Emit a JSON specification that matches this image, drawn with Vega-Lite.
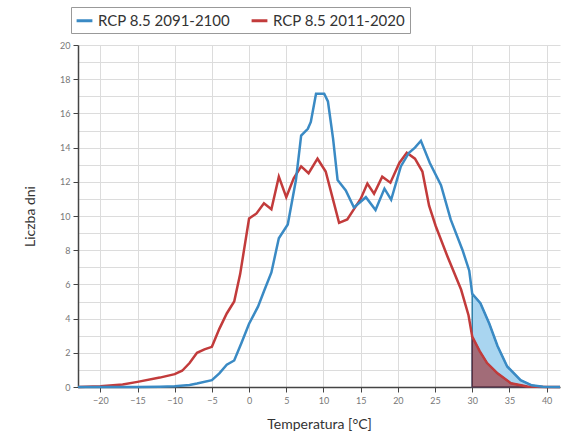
{
  "$schema": "https://vega.github.io/schema/vega-lite/v6.json",
  "width": 482,
  "height": 342,
  "autosize": {"type": "none"},
  "padding": {"left": 78, "top": 45, "right": 4, "bottom": 50},
  "background": "white",
  "config": {
    "font": "Lato",
    "view": {"stroke": null},
    "axis": {
      "domainColor": "#444",
      "domainWidth": 1.5,
      "tickColor": "#444",
      "tickSize": 5,
      "labelColor": "#777",
      "labelFontSize": 9,
      "gridColor": "#dcdcdc",
      "titleFontSize": 14,
      "titleFontWeight": "normal",
      "titleColor": "#333"
    }
  },
  "datasets": {
    "curves": [
      {"t": -23, "v": 0, "s": "RCP 8.5 2011-2020"},
      {"t": -20, "v": 0.05, "s": "RCP 8.5 2011-2020"},
      {"t": -17, "v": 0.15, "s": "RCP 8.5 2011-2020"},
      {"t": -15, "v": 0.3, "s": "RCP 8.5 2011-2020"},
      {"t": -12, "v": 0.55, "s": "RCP 8.5 2011-2020"},
      {"t": -10, "v": 0.75, "s": "RCP 8.5 2011-2020"},
      {"t": -9, "v": 0.95, "s": "RCP 8.5 2011-2020"},
      {"t": -8, "v": 1.4, "s": "RCP 8.5 2011-2020"},
      {"t": -7, "v": 2.0, "s": "RCP 8.5 2011-2020"},
      {"t": -6, "v": 2.2, "s": "RCP 8.5 2011-2020"},
      {"t": -5, "v": 2.35, "s": "RCP 8.5 2011-2020"},
      {"t": -4, "v": 3.4, "s": "RCP 8.5 2011-2020"},
      {"t": -3, "v": 4.3, "s": "RCP 8.5 2011-2020"},
      {"t": -2, "v": 5.0, "s": "RCP 8.5 2011-2020"},
      {"t": -1.2, "v": 6.6, "s": "RCP 8.5 2011-2020"},
      {"t": -0.5, "v": 8.5, "s": "RCP 8.5 2011-2020"},
      {"t": 0, "v": 9.85, "s": "RCP 8.5 2011-2020"},
      {"t": 1, "v": 10.15, "s": "RCP 8.5 2011-2020"},
      {"t": 2, "v": 10.75, "s": "RCP 8.5 2011-2020"},
      {"t": 3, "v": 10.4, "s": "RCP 8.5 2011-2020"},
      {"t": 4, "v": 12.3, "s": "RCP 8.5 2011-2020"},
      {"t": 5, "v": 11.1, "s": "RCP 8.5 2011-2020"},
      {"t": 6, "v": 12.2, "s": "RCP 8.5 2011-2020"},
      {"t": 7, "v": 12.9, "s": "RCP 8.5 2011-2020"},
      {"t": 8, "v": 12.5, "s": "RCP 8.5 2011-2020"},
      {"t": 9.2, "v": 13.35, "s": "RCP 8.5 2011-2020"},
      {"t": 10.3, "v": 12.6, "s": "RCP 8.5 2011-2020"},
      {"t": 11.2, "v": 11.1, "s": "RCP 8.5 2011-2020"},
      {"t": 12.1, "v": 9.6, "s": "RCP 8.5 2011-2020"},
      {"t": 13.2, "v": 9.8, "s": "RCP 8.5 2011-2020"},
      {"t": 14.1, "v": 10.4, "s": "RCP 8.5 2011-2020"},
      {"t": 15, "v": 11.0, "s": "RCP 8.5 2011-2020"},
      {"t": 15.9, "v": 11.9, "s": "RCP 8.5 2011-2020"},
      {"t": 16.8, "v": 11.3, "s": "RCP 8.5 2011-2020"},
      {"t": 17.9, "v": 12.3, "s": "RCP 8.5 2011-2020"},
      {"t": 19, "v": 11.95, "s": "RCP 8.5 2011-2020"},
      {"t": 20.2, "v": 13.1, "s": "RCP 8.5 2011-2020"},
      {"t": 21.2, "v": 13.7, "s": "RCP 8.5 2011-2020"},
      {"t": 22.3, "v": 13.35, "s": "RCP 8.5 2011-2020"},
      {"t": 23.3, "v": 12.6, "s": "RCP 8.5 2011-2020"},
      {"t": 24.2, "v": 10.6, "s": "RCP 8.5 2011-2020"},
      {"t": 25.1, "v": 9.4, "s": "RCP 8.5 2011-2020"},
      {"t": 26.7, "v": 7.6, "s": "RCP 8.5 2011-2020"},
      {"t": 28.5, "v": 5.7, "s": "RCP 8.5 2011-2020"},
      {"t": 29.5, "v": 4.2, "s": "RCP 8.5 2011-2020"},
      {"t": 30, "v": 2.95, "s": "RCP 8.5 2011-2020"},
      {"t": 31, "v": 2.1, "s": "RCP 8.5 2011-2020"},
      {"t": 32, "v": 1.4, "s": "RCP 8.5 2011-2020"},
      {"t": 33.4, "v": 0.8, "s": "RCP 8.5 2011-2020"},
      {"t": 35.2, "v": 0.22, "s": "RCP 8.5 2011-2020"},
      {"t": 37.4, "v": 0.03, "s": "RCP 8.5 2011-2020"},
      {"t": 40, "v": 0, "s": "RCP 8.5 2011-2020"},
      {"t": 41.8, "v": 0, "s": "RCP 8.5 2011-2020"},
      {"t": -23, "v": 0, "s": "RCP 8.5 2091-2100"},
      {"t": -15, "v": 0, "s": "RCP 8.5 2091-2100"},
      {"t": -12, "v": 0.02, "s": "RCP 8.5 2091-2100"},
      {"t": -10, "v": 0.05, "s": "RCP 8.5 2091-2100"},
      {"t": -8, "v": 0.12, "s": "RCP 8.5 2091-2100"},
      {"t": -7, "v": 0.2, "s": "RCP 8.5 2091-2100"},
      {"t": -5, "v": 0.4, "s": "RCP 8.5 2091-2100"},
      {"t": -4, "v": 0.8, "s": "RCP 8.5 2091-2100"},
      {"t": -3, "v": 1.3, "s": "RCP 8.5 2091-2100"},
      {"t": -2, "v": 1.55, "s": "RCP 8.5 2091-2100"},
      {"t": -1, "v": 2.6, "s": "RCP 8.5 2091-2100"},
      {"t": 0, "v": 3.7, "s": "RCP 8.5 2091-2100"},
      {"t": 1.2, "v": 4.7, "s": "RCP 8.5 2091-2100"},
      {"t": 2, "v": 5.6, "s": "RCP 8.5 2091-2100"},
      {"t": 3, "v": 6.7, "s": "RCP 8.5 2091-2100"},
      {"t": 4, "v": 8.7, "s": "RCP 8.5 2091-2100"},
      {"t": 5.2, "v": 9.5, "s": "RCP 8.5 2091-2100"},
      {"t": 6.3, "v": 12.1, "s": "RCP 8.5 2091-2100"},
      {"t": 7, "v": 14.7, "s": "RCP 8.5 2091-2100"},
      {"t": 7.9, "v": 15.1, "s": "RCP 8.5 2091-2100"},
      {"t": 8.3, "v": 15.5, "s": "RCP 8.5 2091-2100"},
      {"t": 9, "v": 17.15, "s": "RCP 8.5 2091-2100"},
      {"t": 10.1, "v": 17.15, "s": "RCP 8.5 2091-2100"},
      {"t": 10.6, "v": 16.7, "s": "RCP 8.5 2091-2100"},
      {"t": 11.3, "v": 14.5, "s": "RCP 8.5 2091-2100"},
      {"t": 11.9, "v": 12.1, "s": "RCP 8.5 2091-2100"},
      {"t": 13, "v": 11.5, "s": "RCP 8.5 2091-2100"},
      {"t": 14.1, "v": 10.5, "s": "RCP 8.5 2091-2100"},
      {"t": 15.7, "v": 11.1, "s": "RCP 8.5 2091-2100"},
      {"t": 17, "v": 10.35, "s": "RCP 8.5 2091-2100"},
      {"t": 18.2, "v": 11.6, "s": "RCP 8.5 2091-2100"},
      {"t": 19.1, "v": 10.95, "s": "RCP 8.5 2091-2100"},
      {"t": 20.4, "v": 12.9, "s": "RCP 8.5 2091-2100"},
      {"t": 21.5, "v": 13.7, "s": "RCP 8.5 2091-2100"},
      {"t": 22.3, "v": 14.0, "s": "RCP 8.5 2091-2100"},
      {"t": 23.1, "v": 14.4, "s": "RCP 8.5 2091-2100"},
      {"t": 24.3, "v": 13.1, "s": "RCP 8.5 2091-2100"},
      {"t": 25.8, "v": 11.8, "s": "RCP 8.5 2091-2100"},
      {"t": 27.1, "v": 9.8, "s": "RCP 8.5 2091-2100"},
      {"t": 28.7, "v": 8.0, "s": "RCP 8.5 2091-2100"},
      {"t": 29.6, "v": 6.8, "s": "RCP 8.5 2091-2100"},
      {"t": 30, "v": 5.45, "s": "RCP 8.5 2091-2100"},
      {"t": 31.1, "v": 4.9, "s": "RCP 8.5 2091-2100"},
      {"t": 32.3, "v": 3.7, "s": "RCP 8.5 2091-2100"},
      {"t": 33.4, "v": 2.4, "s": "RCP 8.5 2091-2100"},
      {"t": 34.7, "v": 1.2, "s": "RCP 8.5 2091-2100"},
      {"t": 36.5, "v": 0.4, "s": "RCP 8.5 2091-2100"},
      {"t": 38, "v": 0.1, "s": "RCP 8.5 2091-2100"},
      {"t": 39.5, "v": 0.02, "s": "RCP 8.5 2091-2100"},
      {"t": 41.8, "v": 0, "s": "RCP 8.5 2091-2100"}
    ]
  },
  "data": {"name": "curves"},
  "encoding": {
    "x": {
      "field": "t",
      "type": "quantitative",
      "scale": {"domain": [-23, 41.8], "nice": false, "zero": false},
      "axis": {
        "values": [-20, -15, -10, -5, 0, 5, 10, 15, 20, 25, 30, 35, 40],
        "title": "Temperatura [°C]",
        "titlePadding": 12,
        "labelPadding": 4
      }
    },
    "y": {
      "field": "v",
      "type": "quantitative",
      "scale": {"domain": [0, 20], "nice": false},
      "axis": {
        "values": [0, 1, 2, 3, 4, 5, 6, 7, 8, 9, 10, 11, 12, 13, 14, 15, 16, 17, 18, 19, 20],
        "labelExpr": "datum.value % 2 == 0 ? datum.label : ''",
        "tickOpacity": {"condition": {"test": "datum.value % 2 == 0", "value": 1}, "value": 0},
        "title": "Liczba dni",
        "titlePadding": 22,
        "labelPadding": 3
      }
    }
  },
  "layer": [
    {
      "transform": [{"filter": "datum.s == 'RCP 8.5 2091-2100' && datum.t >= 30"}],
      "mark": {"type": "area", "fill": "#a9d5f0", "stroke": "#2e7fa8", "strokeWidth": 1.5}
    },
    {
      "transform": [{"filter": "datum.s == 'RCP 8.5 2011-2020' && datum.t >= 30"}],
      "mark": {"type": "area", "fill": "#a26c78", "stroke": "#5a3040", "strokeWidth": 1.5}
    },
    {
      "mark": {"type": "line", "strokeWidth": 2.5},
      "encoding": {
        "color": {
          "field": "s",
          "type": "nominal",
          "scale": {
            "domain": ["RCP 8.5 2091-2100", "RCP 8.5 2011-2020"],
            "range": ["#3a8ac4", "#c23b3b"]
          },
          "legend": {
            "title": null,
            "orient": "none",
            "legendX": -7,
            "legendY": -38,
            "direction": "horizontal",
            "columns": 2,
            "symbolType": "stroke",
            "symbolStrokeWidth": 3,
            "symbolSize": 250,
            "labelFontSize": 15,
            "labelColor": "#333",
            "strokeColor": "#999",
            "fillColor": "white",
            "padding": 4,
            "columnPadding": 14,
            "labelLimit": 300
          }
        },
        "order": {"field": "t", "type": "quantitative"}
      }
    }
  ]
}
